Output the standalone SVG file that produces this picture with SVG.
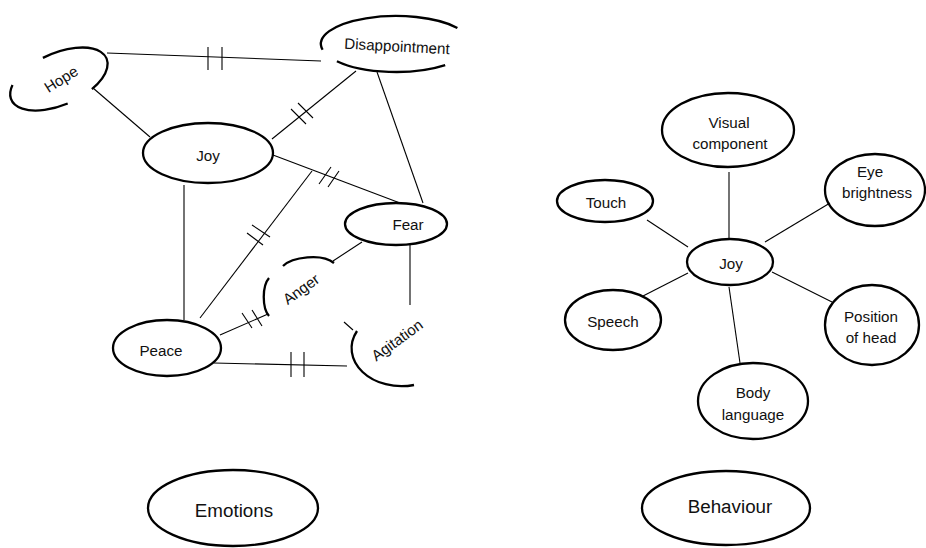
<svg xmlns="http://www.w3.org/2000/svg" width="926" height="548" viewBox="0 0 926 548">
  <style>
    .node { fill: none; stroke: #000; stroke-width: 2.3; }
    .edge { stroke: #000; stroke-width: 1.1; fill: none; }
    .tick { stroke: #000; stroke-width: 1.1; }
    .lbl { font-family: "Liberation Sans", Arial, sans-serif; font-size: 15.2px; fill: #111; text-anchor: middle; dominant-baseline: central; }
    .big { font-size: 18.8px; }
  </style>
  <rect width="926" height="548" fill="#fff"/>

  <!-- Emotions network: connectors -->
  <g id="emotion-edges">
    <line class="edge" x1="107" y1="53" x2="321" y2="61"/>
    <line class="tick" x1="208" y1="47" x2="208" y2="70"/>
    <line class="tick" x1="222" y1="47" x2="222" y2="70"/>

    <line class="edge" x1="93" y1="88" x2="150" y2="137"/>

    <line class="edge" x1="272" y1="139" x2="356" y2="71"/>
    <line class="tick" x1="291" y1="109" x2="306" y2="124"/>
    <line class="tick" x1="298" y1="103" x2="313" y2="118"/>

    <line class="edge" x1="273" y1="155" x2="400" y2="203"/>
    <line class="tick" x1="319" y1="184" x2="331" y2="167"/>
    <line class="tick" x1="328" y1="187" x2="339" y2="171"/>

    <line class="edge" x1="377" y1="72" x2="423" y2="203"/>

    <line class="edge" x1="184" y1="185" x2="184" y2="320"/>

    <line class="edge" x1="200" y1="318" x2="312" y2="171"/>
    <line class="tick" x1="252" y1="225" x2="270" y2="237"/>
    <line class="tick" x1="247" y1="233" x2="263" y2="245"/>

    <line class="edge" x1="333" y1="261" x2="362" y2="242"/>

    <line class="edge" x1="410" y1="245" x2="410" y2="305"/>

    <line class="edge" x1="220" y1="335" x2="268" y2="314"/>
    <line class="tick" x1="242" y1="313" x2="252" y2="328"/>
    <line class="tick" x1="252" y1="310" x2="262" y2="326"/>

    <line class="edge" x1="214" y1="363" x2="347" y2="366"/>
    <line class="tick" x1="291" y1="352" x2="291" y2="377"/>
    <line class="tick" x1="304" y1="352" x2="304" y2="377"/>

    <line class="edge" x1="344" y1="322" x2="353" y2="330"/>
  </g>

  <!-- Emotions network: nodes (some outlines are broken arcs) -->
  <g id="hope">
    <path class="node" d="M 42.9 57.9 A 52 26 -23.5 0 1 91.9 89.2"/>
    <path class="node" d="M 12.5 85 A 52 26 -23.5 0 0 67.7 103.5"/>
    <text class="lbl" transform="translate(61 79) rotate(-32)">Hope</text>
  </g>
  <g id="disappointment">
    <path class="node" d="M 322.6 49.8 A 75 28 0 0 1 457.4 27.9"/>
    <path class="node" d="M 336.9 61.2 A 75 28 0 0 0 445.2 65.1"/>
    <text class="lbl" transform="translate(397 46) rotate(3)">Disappointment</text>
  </g>
  <g id="joy-emotion">
    <ellipse class="node" cx="208" cy="153" rx="65" ry="30"/>
    <text class="lbl" x="208" y="155">Joy</text>
  </g>
  <g id="fear">
    <ellipse class="node" cx="396" cy="224" rx="51" ry="21"/>
    <text class="lbl" x="408" y="224">Fear</text>
  </g>
  <g id="anger">
    <path class="node" d="M 283 266 C 292 257, 322 253, 334 263"/>
    <path class="node" d="M 269 278 C 262 286, 262 308, 269 316"/>
    <text class="lbl" transform="translate(301 289) rotate(-36)">Anger</text>
  </g>
  <g id="agitation">
    <path class="node" d="M 357 331 A 50 38 0 0 0 414 385"/>
    <text class="lbl" transform="translate(397 340) rotate(-36)">Agitation</text>
  </g>
  <g id="peace">
    <ellipse class="node" cx="167" cy="348" rx="54" ry="28"/>
    <text class="lbl" x="161" y="350">Peace</text>
  </g>
  <g id="emotions">
    <ellipse class="node" cx="233" cy="508" rx="85" ry="38"/>
    <text class="lbl big" x="234" y="510">Emotions</text>
  </g>

  <!-- Behaviour network: connectors -->
  <g id="behaviour-edges">
    <line class="edge" x1="647" y1="220" x2="688" y2="247"/>
    <line class="edge" x1="729" y1="172" x2="729" y2="240"/>
    <line class="edge" x1="830" y1="203" x2="765" y2="242"/>
    <line class="edge" x1="688" y1="273" x2="643" y2="296"/>
    <line class="edge" x1="772" y1="272" x2="832" y2="302"/>
    <line class="edge" x1="729" y1="287" x2="740" y2="363"/>
  </g>

  <!-- Behaviour network: nodes -->
  <g id="visual-component">
    <ellipse class="node" cx="728" cy="130" rx="66" ry="37"/>
    <text class="lbl" x="729" y="122">Visual</text>
    <text class="lbl" x="730" y="143">component</text>
  </g>
  <g id="eye-brightness">
    <ellipse class="node" cx="875" cy="190" rx="50" ry="36"/>
    <text class="lbl" x="870" y="171">Eye</text>
    <text class="lbl" x="877" y="192">brightness</text>
  </g>
  <g id="touch">
    <ellipse class="node" cx="605" cy="201" rx="48" ry="21"/>
    <text class="lbl" x="606" y="202">Touch</text>
  </g>
  <g id="joy-behaviour">
    <ellipse class="node" cx="730" cy="262" rx="43" ry="23"/>
    <text class="lbl" x="731" y="263">Joy</text>
  </g>
  <g id="speech">
    <ellipse class="node" cx="613" cy="320" rx="48" ry="30"/>
    <text class="lbl" x="613" y="321">Speech</text>
  </g>
  <g id="position-of-head">
    <ellipse class="node" cx="872" cy="325" rx="47" ry="40"/>
    <text class="lbl" x="871" y="316">Position</text>
    <text class="lbl" x="871" y="337">of head</text>
  </g>
  <g id="body-language">
    <ellipse class="node" cx="753" cy="401" rx="55" ry="38"/>
    <text class="lbl" x="753" y="392">Body</text>
    <text class="lbl" x="753" y="414">language</text>
  </g>
  <g id="behaviour">
    <ellipse class="node" cx="726" cy="508" rx="84" ry="37"/>
    <text class="lbl big" x="730" y="506">Behaviour</text>
  </g>
</svg>
